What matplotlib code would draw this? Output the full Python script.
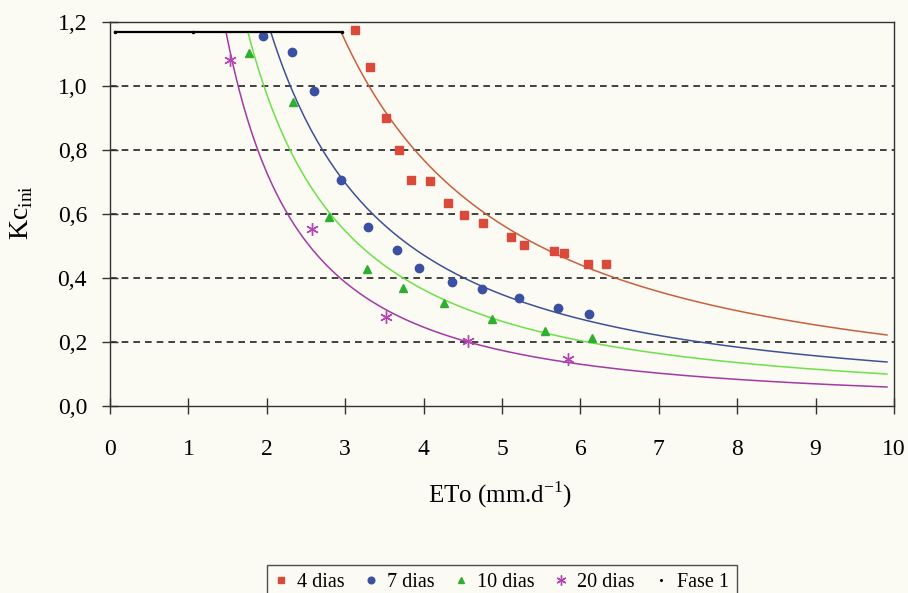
import numpy as np
import matplotlib.pyplot as plt
from matplotlib.ticker import FuncFormatter

# --- Data ---
eto_4 = [3.13, 3.32, 3.52, 3.69, 3.84, 4.08, 4.31, 4.52, 4.76, 5.11, 5.28, 5.66, 5.79, 6.10, 6.33]
kc_4 = [1.175, 1.06, 0.90, 0.80, 0.706, 0.703, 0.634, 0.597, 0.572, 0.528, 0.503, 0.484, 0.478, 0.444, 0.444]

eto_7 = [1.95, 2.32, 2.60, 2.95, 3.29, 3.66, 3.94, 4.36, 4.74, 5.22, 5.71, 6.11]
kc_7 = [1.156, 1.106, 0.984, 0.706, 0.559, 0.488, 0.431, 0.388, 0.366, 0.338, 0.306, 0.288]

eto_10 = [1.77, 2.33, 2.79, 3.28, 3.74, 4.26, 4.87, 5.55, 6.15]
kc_10 = [1.103, 0.95, 0.59, 0.428, 0.369, 0.322, 0.272, 0.234, 0.213]

eto_20 = [1.53, 2.58, 3.52, 4.57, 5.84]
kc_20 = [1.08, 0.553, 0.278, 0.203, 0.147]

fase1_eto = [0.07, 1.06, 2.96]
fase1_kc = [1.168, 1.168, 1.168]

# power trendlines Kc = a * ETo^b
fit_a = [5.14, 3.10, 2.61, 2.16]
fit_b = [-1.370, -1.358, -1.422, -1.566]
fit_start = [2.95, 2.05, 1.76, 1.48]
fit_end = 9.91

labels = ['4 dias', '7 dias', '10 dias', '20 dias']
pt_colors = ['#d94a3b', '#3b4fa3', '#2fae2f', '#b545b5']
ln_colors = ['#c8603f', '#3f5096', '#6ee04a', '#a23aa2']
markers = ['s', 'o', '^', (6, 2, 0)]
msizes = [6, 6, 6, 9]

bg = '#fbfaf3'
plt.rcParams['font.family'] = ['Liberation Serif', 'DejaVu Serif']

fig = plt.figure(figsize=(9.08, 5.93), dpi=100, facecolor=bg)
ax = fig.add_axes([0.1211, 0.3153, 0.8635, 0.6476])
ax.set_facecolor(bg)

xs = [eto_4, eto_7, eto_10, eto_20]
ys = [kc_4, kc_7, kc_10, kc_20]

# gridlines
for g in [0.2, 0.4, 0.6, 0.8, 1.0]:
    ax.axhline(g, color='#222222', lw=1.2, ls=(0, (4, 3)), zorder=1)

for i in range(4):
    xx = np.linspace(fit_start[i], fit_end, 200)
    ax.plot(xx, fit_a[i] * xx ** fit_b[i], color=ln_colors[i], lw=1.1, zorder=2)
    ax.plot(xs[i], ys[i], ls='none', marker=markers[i], ms=msizes[i],
            color=pt_colors[i], mec=pt_colors[i], mew=1.0, label=labels[i], zorder=3)

ax.plot(fase1_eto, fase1_kc, color='black', lw=1.6, zorder=3)
ax.plot(fase1_eto, fase1_kc, ls='none', marker='.', ms=3, color='black', label='Fase 1', zorder=3)

ax.set_xlim(0, 10)
ax.set_ylim(0, 1.2)
ax.set_xticks(range(0, 11))
ax.set_yticks(np.arange(0, 1.21, 0.2))
ax.yaxis.set_major_formatter(FuncFormatter(lambda v, p: f'{v:.1f}'.replace('.', ',')))

for s in ax.spines.values():
    s.set_color('#333333')
    s.set_linewidth(1.0)
ax.tick_params(direction='inout', length=11, width=1, colors='#333333', labelcolor='black', labelsize=17)
ax.tick_params(axis='x', pad=18)
ax.tick_params(axis='y', pad=11)

fig.text(0.551, 1 - 495 / 593, r'ETo (mm.d$^{\mathregular{-1}}$)', ha='center', va='center', fontsize=18)
fig.text(0.024, 1 - 213 / 593, r'Kc$_{\mathregular{ini}}$', ha='center', va='center', rotation=90, fontsize=20)

leg = fig.legend(loc='upper center', bbox_to_anchor=(502 / 908, 1 - 555 / 593), ncol=5,
                 frameon=True, fancybox=False, edgecolor='#222222', facecolor=bg,
                 fontsize=14.5, handlelength=0.6, handletextpad=0.5, columnspacing=1.0,
                 borderpad=0.4, markerscale=0.8)
leg.get_frame().set_linewidth(1.0)

fig.savefig('out.png', dpi=100, facecolor=bg)
